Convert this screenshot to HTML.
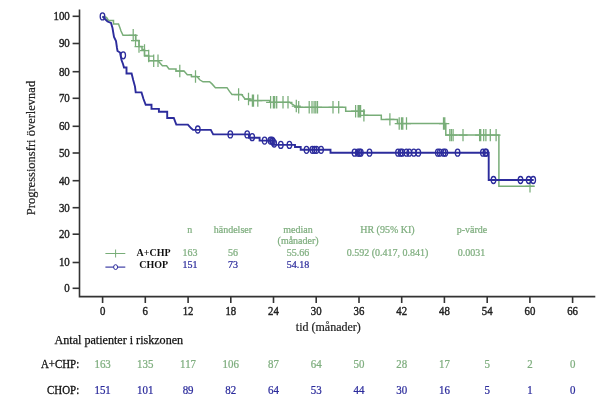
<!DOCTYPE html>
<html><head><meta charset="utf-8"><title>Progressionsfri överlevnad</title>
<style>html,body{margin:0;padding:0;background:#fff}svg{display:block;filter:blur(0.45px)}text{font-family:"Liberation Serif","DejaVu Serif",serif}</style></head>
<body>
<svg width="605" height="411" viewBox="0 0 605 411">
<rect width="605" height="411" fill="#fff"/>
<g stroke="#333" stroke-width="1.6" fill="none">
<path d="M79.5,9.5 V296.6 H595.3"/>
<path d="M72.6,288.3 H79.5"/>
<path d="M72.6,262.5 H79.5"/>
<path d="M72.6,234.2 H79.5"/>
<path d="M72.6,207.7 H79.5"/>
<path d="M72.6,180.7 H79.5"/>
<path d="M72.6,153.0 H79.5"/>
<path d="M72.6,126.3 H79.5"/>
<path d="M72.6,98.3 H79.5"/>
<path d="M72.6,71.7 H79.5"/>
<path d="M72.6,43.5 H79.5"/>
<path d="M72.6,16.3 H79.5"/>
<path d="M102.6,296.6 V303"/>
<path d="M145.3,296.6 V303"/>
<path d="M188.1,296.6 V303"/>
<path d="M230.8,296.6 V303"/>
<path d="M273.5,296.6 V303"/>
<path d="M316.2,296.6 V303"/>
<path d="M359.0,296.6 V303"/>
<path d="M401.7,296.6 V303"/>
<path d="M444.4,296.6 V303"/>
<path d="M487.2,296.6 V303"/>
<path d="M529.9,296.6 V303"/>
<path d="M572.6,296.6 V303"/>
</g>
<g font-size="12" fill="#222" stroke="#222" stroke-width="0.4" text-anchor="end">
<text transform="translate(69.8,292.2) scale(0.91,1)">0</text>
<text transform="translate(69.8,266.4) scale(0.91,1)">10</text>
<text transform="translate(69.8,238.1) scale(0.91,1)">20</text>
<text transform="translate(69.8,211.6) scale(0.91,1)">30</text>
<text transform="translate(69.8,184.6) scale(0.91,1)">40</text>
<text transform="translate(69.8,156.9) scale(0.91,1)">50</text>
<text transform="translate(69.8,130.2) scale(0.91,1)">60</text>
<text transform="translate(69.8,102.2) scale(0.91,1)">70</text>
<text transform="translate(69.8,75.6) scale(0.91,1)">80</text>
<text transform="translate(69.8,47.4) scale(0.91,1)">90</text>
<text transform="translate(69.8,20.2) scale(0.91,1)">100</text>
</g>
<g font-size="12" fill="#222" stroke="#222" stroke-width="0.4" text-anchor="middle">
<text transform="translate(102.6,315) scale(0.9,1)">0</text>
<text transform="translate(145.3,315) scale(0.9,1)">6</text>
<text transform="translate(188.1,315) scale(0.9,1)">12</text>
<text transform="translate(230.8,315) scale(0.9,1)">18</text>
<text transform="translate(273.5,315) scale(0.9,1)">24</text>
<text transform="translate(316.2,315) scale(0.9,1)">30</text>
<text transform="translate(359.0,315) scale(0.9,1)">36</text>
<text transform="translate(401.7,315) scale(0.9,1)">42</text>
<text transform="translate(444.4,315) scale(0.9,1)">48</text>
<text transform="translate(487.2,315) scale(0.9,1)">54</text>
<text transform="translate(529.9,315) scale(0.9,1)">60</text>
<text transform="translate(572.6,315) scale(0.9,1)">66</text>
</g><g font-size="12" fill="#222" stroke="#222" stroke-width="0.2" text-anchor="middle">
<text x="328.3" y="331.4">tid (månader)</text>
<text transform="translate(35,148) rotate(-90)" font-size="12.5">Progressionsfri överlevnad</text>
</g>
<path d="M102.5,16.4 L106.5,17.5 L108.5,20.5 H113.5 V24 H118.5 L120,28 L121,31 L123,35.3 H135.8 V40.5 H139 V46.5 H142 V49.5 H144.5 V55.5 H148.7 V60.7 H158 L160,63 L162.4,65.7 H166.6 L169,69 H176 V71 H184 L187.3,74.8 H191.4 V76.5 H197 L199.7,79.8 L203,81.8 H209.6 L212,83.9 L215.4,87.7 H227 L229.5,91.4 L232,94.5 H241.6 L245,99 H250 V100.6 H269.8 V102.3 H289.6 L293,104.5 L297,107.3 H345.7 V111.2 H364 V115.3 H381.3 V119.4 H397.5 V123.5 H445.8 V135.1 H498.9 V186.3 H534.5" fill="none" stroke="#78ad78" stroke-width="1.5" stroke-linejoin="miter"/>
<g stroke="#78ad78" stroke-width="1.25" fill="none">
<path d="M133.2,29.099999999999998V41.5M128.7,35.3H137.7 M135.5,34.3V46.7M131.0,40.5H140.0 M139,40.3V52.7M134.5,46.5H143.5 M144.5,44.3V56.7M140.0,50.5H149.0 M148.7,49.8V62.2M144.2,56H153.2 M153.7,54.5V66.9M149.2,60.7H158.2 M158,54.5V66.9M153.5,60.7H162.5 M179.8,64.8V77.2M175.3,71H184.3 M195.5,70.3V82.7M191.0,76.5H200.0 M238.6,88.3V100.7M234.1,94.5H243.1 M248.5,92.8V105.2M244.0,99H253.0 M252.4,94.39999999999999V106.8M247.9,100.6H256.9 M253.5,94.39999999999999V106.8M249.0,100.6H258.0 M257.8,94.39999999999999V106.8M253.3,100.6H262.3 M270.6,96.1V108.5M266.1,102.3H275.1 M273.4,96.1V108.5M268.9,102.3H277.9 M274.7,96.1V108.5M270.2,102.3H279.2 M276.7,96.1V108.5M272.2,102.3H281.2 M283,96.1V108.5M278.5,102.3H287.5 M288,96.1V108.5M283.5,102.3H292.5 M296.3,99.8V112.2M291.8,106H300.8 M298.7,101.1V113.5M294.2,107.3H303.2 M309.2,101.1V113.5M304.7,107.3H313.7 M312,101.1V113.5M307.5,107.3H316.5 M314.1,101.1V113.5M309.6,107.3H318.6 M315.8,101.1V113.5M311.3,107.3H320.3 M317.5,101.1V113.5M313.0,107.3H322.0 M333,101.1V113.5M328.5,107.3H337.5 M338.7,101.1V113.5M334.2,107.3H343.2 M355.6,105.0V117.4M351.1,111.2H360.1 M358.1,105.0V117.4M353.6,111.2H362.6 M359.3,105.0V117.4M354.8,111.2H363.8 M360.6,105.0V117.4M356.1,111.2H365.1 M363.9,109.1V121.5M359.4,115.3H368.4 M389.9,113.2V125.60000000000001M385.4,119.4H394.4 M399.2,117.3V129.7M394.7,123.5H403.7 M401.5,117.3V129.7M397.0,123.5H406.0 M402.8,117.3V129.7M398.3,123.5H407.3 M406.5,117.3V129.7M402.0,123.5H411.0 M443.5,117.3V129.7M439.0,123.5H448.0 M444.8,117.3V129.7M440.3,123.5H449.3 M449.8,128.9V141.29999999999998M445.3,135.1H454.3 M451.4,128.9V141.29999999999998M446.9,135.1H455.9 M453.1,128.9V141.29999999999998M448.6,135.1H457.6 M463,128.9V141.29999999999998M458.5,135.1H467.5 M479.6,128.9V141.29999999999998M475.1,135.1H484.1 M480.7,128.9V141.29999999999998M476.2,135.1H485.2 M483.7,128.9V141.29999999999998M479.2,135.1H488.2 M485.9,128.9V141.29999999999998M481.4,135.1H490.4 M490.3,128.9V141.29999999999998M485.8,135.1H494.8 M496.1,128.9V141.29999999999998M491.6,135.1H500.6 M530,180.10000000000002V192.5M525.5,186.3H534.5"/>
</g>
<path d="M102.5,16.4 L105,19 L107.5,21.5 L111,23 L112.5,28 L114,37 L116,41 L117,48 L117.5,51 L120,52.5 L121.5,60 L123,64 L124,67.5 H126.5 V73.5 H131.6 L133.2,80 L135,86.6 L135.7,92.4 H141.5 L143.5,99 L145.7,104.8 H151.5 V108.9 H158.9 V111.7 H167.2 V118 H173.8 L176.3,124.6 H187.9 L191.2,128.3 L193,129.9 H210.8 L213.2,134.4 H249 V137.7 H259.6 V140.6 H273 V144.9 H295 V147 H300.7 V149.8 H330.5 V152.7 H488.7 V180 H533.7" fill="none" stroke="#2c2c9c" stroke-width="1.9" stroke-linejoin="miter"/>
<g stroke="#2c2c9c" stroke-width="1.3" fill="none">
<ellipse cx="102.5" cy="16.4" rx="2.3" ry="3.5"/>
<ellipse cx="123.2" cy="55.3" rx="2.3" ry="3.5"/>
<ellipse cx="197.8" cy="129.5" rx="2.3" ry="3.5"/>
<ellipse cx="230.3" cy="134.4" rx="2.3" ry="3.5"/>
<ellipse cx="247.2" cy="134.4" rx="2.3" ry="3.5"/>
<ellipse cx="252.2" cy="137.2" rx="2.3" ry="3.5"/>
<ellipse cx="264.6" cy="140.6" rx="2.3" ry="3.5"/>
<ellipse cx="270.4" cy="140.6" rx="2.3" ry="3.5"/>
<ellipse cx="272" cy="140.6" rx="2.3" ry="3.5"/>
<ellipse cx="272.8" cy="141.5" rx="2.3" ry="3.5"/>
<ellipse cx="274.2" cy="143.5" rx="2.3" ry="3.5"/>
<ellipse cx="280.8" cy="144.9" rx="2.3" ry="3.5"/>
<ellipse cx="289.4" cy="144.9" rx="2.3" ry="3.5"/>
<ellipse cx="306.5" cy="149.8" rx="2.3" ry="3.5"/>
<ellipse cx="312.3" cy="149.8" rx="2.3" ry="3.5"/>
<ellipse cx="314.5" cy="149.8" rx="2.3" ry="3.5"/>
<ellipse cx="316.5" cy="149.8" rx="2.3" ry="3.5"/>
<ellipse cx="321.1" cy="149.8" rx="2.3" ry="3.5"/>
<ellipse cx="354.5" cy="152.7" rx="2.3" ry="3.5"/>
<ellipse cx="357.8" cy="152.7" rx="2.3" ry="3.5"/>
<ellipse cx="359.5" cy="152.7" rx="2.3" ry="3.5"/>
<ellipse cx="360.8" cy="152.7" rx="2.3" ry="3.5"/>
<ellipse cx="369.5" cy="152.7" rx="2.3" ry="3.5"/>
<ellipse cx="398" cy="152.7" rx="2.3" ry="3.5"/>
<ellipse cx="400.6" cy="152.7" rx="2.3" ry="3.5"/>
<ellipse cx="402.2" cy="152.7" rx="2.3" ry="3.5"/>
<ellipse cx="406.4" cy="152.7" rx="2.3" ry="3.5"/>
<ellipse cx="409.3" cy="152.7" rx="2.3" ry="3.5"/>
<ellipse cx="413.8" cy="152.7" rx="2.3" ry="3.5"/>
<ellipse cx="418.3" cy="152.7" rx="2.3" ry="3.5"/>
<ellipse cx="437.8" cy="152.7" rx="2.3" ry="3.5"/>
<ellipse cx="439.8" cy="152.7" rx="2.3" ry="3.5"/>
<ellipse cx="443.6" cy="152.7" rx="2.3" ry="3.5"/>
<ellipse cx="445.3" cy="152.7" rx="2.3" ry="3.5"/>
<ellipse cx="457.6" cy="152.7" rx="2.3" ry="3.5"/>
<ellipse cx="482.9" cy="152.7" rx="2.3" ry="3.5"/>
<ellipse cx="485.4" cy="152.7" rx="2.3" ry="3.5"/>
<ellipse cx="486.2" cy="152.7" rx="2.3" ry="3.5"/>
<ellipse cx="493.5" cy="180" rx="2.3" ry="3.5"/>
<ellipse cx="520.5" cy="180" rx="2.3" ry="3.5"/>
<ellipse cx="528.7" cy="180" rx="2.3" ry="3.5"/>
<ellipse cx="533.2" cy="180" rx="2.3" ry="3.5"/>
</g>
<path d="M105.4,253.5 H125.3 M115.6,249.5 V257.5" stroke="#78ad78" stroke-width="1" fill="none"/>
<path d="M105.4,267.1 H125.3" stroke="#2c2c9c" stroke-width="1.1" fill="none"/>
<ellipse cx="115.6" cy="267.1" rx="2" ry="2.4" stroke="#2c2c9c" stroke-width="1" fill="#fff"/>
<g font-size="11" font-weight="bold" fill="#111" text-anchor="middle">
<text transform="translate(153.5,256) scale(0.91,1)">A+CHP</text><text transform="translate(153.7,268) scale(0.91,1)">CHOP</text></g>
<g font-size="11" fill="#7fae7f" stroke="#7fae7f" stroke-width="0.25" text-anchor="middle">
<text transform="translate(189.8,233) scale(0.91,1)">n</text><text transform="translate(232.9,233) scale(0.91,1)">händelser</text><text transform="translate(298,233) scale(0.91,1)">median</text><text transform="translate(298.1,243.5) scale(0.91,1)">(månader)</text><text transform="translate(387.4,233) scale(0.91,1)">HR (95% KI)</text><text transform="translate(472,233) scale(0.91,1)">p-värde</text>
<text transform="translate(189.9,256) scale(0.91,1)">163</text><text transform="translate(233,256) scale(0.91,1)">56</text><text transform="translate(298,256) scale(0.91,1)">55.66</text><text transform="translate(387.5,256) scale(0.91,1)">0.592 (0.417, 0.841)</text><text transform="translate(471.6,256) scale(0.91,1)">0.0031</text></g>
<g font-size="11" fill="#2c2c9c" stroke="#2c2c9c" stroke-width="0.25" text-anchor="middle">
<text transform="translate(189.9,268) scale(0.91,1)">151</text><text transform="translate(233,268) scale(0.91,1)">73</text><text transform="translate(298,268) scale(0.91,1)">54.18</text></g>
<g font-size="12.1" fill="#111" stroke="#111" stroke-width="0.25"><text x="54.5" y="343.5">Antal patienter i riskzonen</text></g>
<g font-size="12" fill="#111" stroke="#111" stroke-width="0.3" text-anchor="end"><text transform="translate(79.2,367.8) scale(0.91,1)">A+CHP:</text><text transform="translate(79.2,394.2) scale(0.91,1)">CHOP:</text></g>
<g font-size="12" fill="#7fae7f" stroke="#7fae7f" stroke-width="0.25" text-anchor="middle">
<text transform="translate(102.6,367.8) scale(0.91,1)">163</text>
<text transform="translate(145.3,367.8) scale(0.91,1)">135</text>
<text transform="translate(188.1,367.8) scale(0.91,1)">117</text>
<text transform="translate(230.8,367.8) scale(0.91,1)">106</text>
<text transform="translate(273.5,367.8) scale(0.91,1)">87</text>
<text transform="translate(316.2,367.8) scale(0.91,1)">64</text>
<text transform="translate(359.0,367.8) scale(0.91,1)">50</text>
<text transform="translate(401.7,367.8) scale(0.91,1)">28</text>
<text transform="translate(444.4,367.8) scale(0.91,1)">17</text>
<text transform="translate(487.2,367.8) scale(0.91,1)">5</text>
<text transform="translate(529.9,367.8) scale(0.91,1)">2</text>
<text transform="translate(572.6,367.8) scale(0.91,1)">0</text>
</g>
<g font-size="12" fill="#2c2c9c" stroke="#2c2c9c" stroke-width="0.25" text-anchor="middle">
<text transform="translate(102.6,394.2) scale(0.91,1)">151</text>
<text transform="translate(145.3,394.2) scale(0.91,1)">101</text>
<text transform="translate(188.1,394.2) scale(0.91,1)">89</text>
<text transform="translate(230.8,394.2) scale(0.91,1)">82</text>
<text transform="translate(273.5,394.2) scale(0.91,1)">64</text>
<text transform="translate(316.2,394.2) scale(0.91,1)">53</text>
<text transform="translate(359.0,394.2) scale(0.91,1)">44</text>
<text transform="translate(401.7,394.2) scale(0.91,1)">30</text>
<text transform="translate(444.4,394.2) scale(0.91,1)">16</text>
<text transform="translate(487.2,394.2) scale(0.91,1)">5</text>
<text transform="translate(529.9,394.2) scale(0.91,1)">1</text>
<text transform="translate(572.6,394.2) scale(0.91,1)">0</text>
</g>
</svg>
</body></html>
